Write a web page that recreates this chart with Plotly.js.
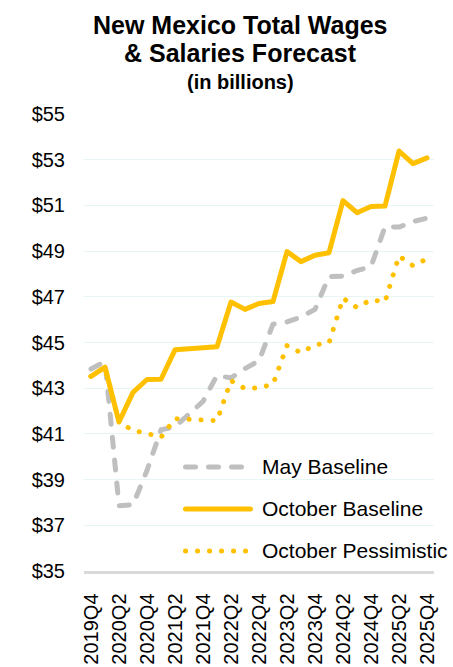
<!DOCTYPE html>
<html>
<head>
<meta charset="utf-8">
<script src="https://cdn.plot.ly/plotly-3.0.1.min.js"></script>
<style>
html,body{margin:0;padding:0;background:#fff;}
#chart{width:453px;height:667px;}
#chart .scatterlayer .js-line, #chart .shapelayer path { stroke-linecap: round; stroke-linejoin: round; }
</style>
</head>
<body>
<div id="chart"></div>
<script>
const quarters = ["2019Q4","2020Q1","2020Q2","2020Q3","2020Q4","2021Q1","2021Q2","2021Q3","2021Q4",
  "2022Q1","2022Q2","2022Q3","2022Q4","2023Q1","2023Q2","2023Q3","2023Q4",
  "2024Q1","2024Q2","2024Q3","2024Q4","2025Q1","2025Q2","2025Q3","2025Q4"];
const tickLabels = ["2019Q4","2020Q2","2020Q4","2021Q2","2021Q4","2022Q2","2022Q4","2023Q2","2023Q4","2024Q2","2024Q4","2025Q2","2025Q4"];
const mayBaseline = [43.84,44.17,37.86,37.90,39.40,41.18,41.31,41.83,42.42,43.56,43.45,43.86,44.20,45.80,45.90,46.12,46.45,47.89,47.90,48.15,48.32,50.07,50.05,50.29,50.44];
const octBaseline = [43.52,43.92,41.52,42.82,43.38,43.39,44.68,44.71,44.74,44.81,46.77,46.45,46.71,46.79,48.98,48.54,48.82,48.93,51.21,50.68,50.95,50.97,53.38,52.83,53.08];
const octPessimistic = [43.52,43.92,41.52,41.15,41.02,40.85,41.67,41.65,41.62,41.58,43.33,42.98,43.02,43.17,44.86,44.55,44.90,44.98,46.94,46.53,46.87,46.78,48.79,48.36,48.66];
const seriesNames = ["May Baseline","October Baseline","October Pessimistic"];

const FONT = "Arial, 'Liberation Sans', sans-serif";
const GOLD = "#FFC000";
const GRAY = "#BFBFBF";
const DASH = "10px,13px";
const DOT = "0.1px,11.9px";

const traces = [
  {x: quarters, y: mayBaseline, name: seriesNames[0], type: "scatter", mode: "lines",
   line: {color: GRAY, width: 5, dash: DASH}},
  {x: quarters, y: octBaseline, name: seriesNames[1], type: "scatter", mode: "lines",
   line: {color: GOLD, width: 5}},
  {x: quarters, y: octPessimistic, name: seriesNames[2], type: "scatter", mode: "lines",
   line: {color: GOLD, width: 5, dash: DOT}}
];

// custom legend (paper coordinates)
const legRows = [0.2276, 0.1357, 0.0438];
const legStyles = [
  {color: GRAY, width: 5, dash: DASH, x1: 0.4514},
  {color: GOLD, width: 5, dash: "solid", x1: 0.4757},
  {color: GOLD, width: 5, dash: DOT, x1: 0.4629}
];
const shapes = legRows.map((yy, i) => ({
  type: "line", xref: "paper", yref: "paper", x0: 0.29, x1: legStyles[i].x1, y0: yy, y1: yy,
  line: {color: legStyles[i].color, width: legStyles[i].width, dash: legStyles[i].dash}
}));
const annotations = legRows.map((yy, i) => ({
  xref: "paper", yref: "paper", x: 0.5029, y: yy, xanchor: "left", yanchor: "middle",
  text: seriesNames[i], showarrow: false, font: {family: FONT, size: 21, color: "#000"}
}));
annotations.push(
  {xref: "paper", yref: "paper", x: 0.446, y: 1.195, xanchor: "center", yanchor: "middle",
   text: "<b>New Mexico Total Wages</b>", showarrow: false, font: {family: FONT, size: 25, color: "#000"}},
  {xref: "paper", yref: "paper", x: 0.446, y: 1.1345, xanchor: "center", yanchor: "middle",
   text: "<b>& Salaries Forecast</b>", showarrow: false, font: {family: FONT, size: 25, color: "#000"}},
  {xref: "paper", yref: "paper", x: 0.446, y: 1.069, xanchor: "center", yanchor: "middle",
   text: "<b>(in billions)</b>", showarrow: false, font: {family: FONT, size: 20, color: "#000"}}
);

const layout = {
  width: 453, height: 667,
  margin: {l: 84, r: 19, t: 114, b: 96, pad: 0},
  paper_bgcolor: "#fff", plot_bgcolor: "#fff",
  showlegend: false,
  font: {family: FONT, color: "#000"},
  xaxis: {
    type: "category", range: [-0.5, 24.5], automargin: false,
    tickmode: "array", tickvals: tickLabels, ticktext: tickLabels,
    tickangle: -90, tickfont: {family: FONT, size: 20, color: "#000"},
    showline: true, linecolor: "#D9D9D9", linewidth: 2.5,
    showgrid: false, zeroline: false, ticks: "", ticklabelstandoff: 12, fixedrange: true
  },
  yaxis: {
    range: [35, 55], tick0: 35, dtick: 2, tickprefix: "$", automargin: false,
    tickfont: {family: FONT, size: 20, color: "#000"},
    showgrid: true, gridcolor: "#E6F5F5", gridwidth: 1,
    showline: false, zeroline: false, ticks: "", ticklabelstandoff: 18, fixedrange: true
  },
  shapes: shapes,
  annotations: annotations
};

Plotly.newPlot("chart", traces, layout, {displayModeBar: false, staticPlot: true});
</script>
</body>
</html>
